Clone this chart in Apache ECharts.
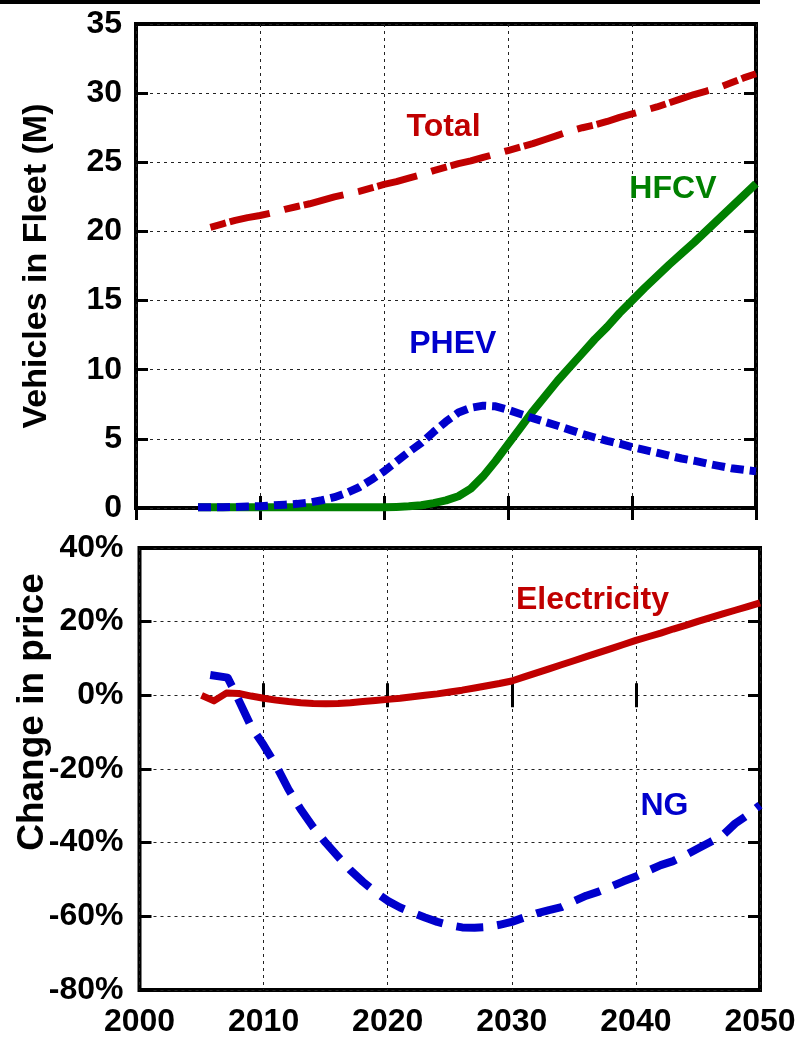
<!DOCTYPE html>
<html>
<head>
<meta charset="utf-8">
<script src="https://cdn.jsdelivr.net/npm/echarts@6/dist/echarts.min.js"></script>
<style>
  html, body { margin: 0; padding: 0; background: #fff; }
  #chart { width: 800px; height: 1038px; }
</style>
</head>
<body>
<div id="chart"></div>
<script>
// ---- Data -------------------------------------------------------------
// Fleet projections (millions of vehicles), one value per year 2005-2050
const years = [2005,2006,2007,2008,2009,2010,2011,2012,2013,2014,2015,2016,2017,2018,2019,
               2020,2021,2022,2023,2024,2025,2026,2027,2028,2029,2030,2031,2032,2033,2034,
               2035,2036,2037,2038,2039,2040,2041,2042,2043,2044,2045,2046,2047,2048,2049,2050];

const totalFleet = [null,20.3,20.55,20.8,21.0,21.15,21.35,21.6,21.8,22.0,22.25,22.5,22.7,22.9,23.15,
                    23.4,23.6,23.85,24.1,24.4,24.65,24.9,25.1,25.35,25.6,25.85,26.1,26.35,26.65,26.95,
                    27.25,27.5,27.7,27.95,28.25,28.5,28.75,29.0,29.3,29.6,29.9,30.15,30.4,30.75,31.1,31.4];

const hfcvFleet = [0.05,0.05,0.05,0.05,0.05,0.05,0.05,0.05,0.05,0.05,0.05,0.05,0.05,0.05,0.05,
                   0.05,0.08,0.12,0.2,0.35,0.55,0.85,1.4,2.3,3.4,4.6,5.8,7.0,8.1,9.2,
                   10.2,11.2,12.2,13.1,14.1,15.0,15.9,16.75,17.6,18.4,19.2,20.05,20.9,21.75,22.6,23.45];

const phevFleet = [0.05,0.05,0.06,0.07,0.1,0.13,0.19,0.24,0.3,0.4,0.56,0.78,1.1,1.5,2.05,
                   2.65,3.35,4.05,4.7,5.5,6.25,6.9,7.25,7.4,7.35,7.1,6.8,6.5,6.22,5.95,
                   5.65,5.36,5.1,4.85,4.65,4.4,4.2,4.0,3.78,3.58,3.42,3.22,3.05,2.88,2.76,2.65];

// Change in energy price (%)
const elecChange = [0,-1.5,0.6,0.5,-0.2,-0.8,-1.3,-1.7,-2.0,-2.2,-2.3,-2.2,-2.0,-1.7,-1.4,
                    -1.1,-0.8,-0.4,0.0,0.4,0.9,1.4,2.0,2.6,3.2,3.9,5.0,6.1,7.2,8.3,
                    9.4,10.5,11.6,12.7,13.8,14.9,15.9,16.9,18.0,19.0,20.1,21.1,22.1,23.1,24.1,25.1];

const ngYears  = [2005.7,2007.1,2007.6,2009,2010,2011,2012,2013,2014,2015,2016,2017,2018,2019,
                  2020,2021,2022,2023,2024,2025,2026,2027,2028,2029,2030,2031,2032,2033,2034,
                  2035,2036,2037,2038,2039,2040,2041,2042,2043,2044,2045,2046,2047,2048,2049,2050];
const ngChange = [5.5,4.8,1.5,-8.5,-13.5,-19,-25.5,-31,-35.8,-40,-43.8,-47.5,-50.6,-53.4,
                  -55.8,-57.6,-59.0,-60.3,-61.5,-62.4,-63.0,-63.1,-62.9,-62.3,-61.5,-60.3,-59.2,-58.3,-57.5,
                  -55.9,-54.4,-53.3,-51.9,-50.5,-49.2,-47.6,-46.1,-45.0,-43.4,-41.6,-39.8,-38.0,-34.8,-32.5,-29.8];

// Axis ranges and tick steps
const yearRange  = [2000, 2050, 10];
const fleetRange = [0, 35, 5];
const priceRange = [-80, 40, 20];

// Curve labels: [text, x, y] in data units
const fleetLabels = [['Total', 2024.8, 27.55], ['HFCV', 2043.3, 23.05], ['PHEV', 2025.55, 11.85]];
const priceLabels = [['Electricity', 2036.5, 25.9], ['NG', 2042.3, -30.0]];

// ---- Styling ----------------------------------------------------------
const FONT = "'Liberation Sans', Arial, Helvetica, sans-serif";
const RED = '#c00000', GREEN = '#008000', BLUE = '#0000cc';

const pairs = (xs, ys) => xs.map((x, i) => [x, ys[i]]);

function labelPoint(text, x, y, color) {
  return {
    coord: [x, y], value: text,
    symbol: 'circle', symbolSize: 0,
    label: { show: true, position: 'inside', formatter: text, color: color,
             fontFamily: FONT, fontWeight: 'bold', fontSize: 32 }
  };
}

function lineSeries(name, data, color, width, dash, gi, label) {
  const s = {
    name, type: 'line', data,
    xAxisIndex: gi * 2, yAxisIndex: gi * 2,
    showSymbol: false, symbol: 'none', animation: false, silent: true,
    lineStyle: { color, width, type: dash || 'solid', cap: 'butt', join: 'round' },
    z: 5
  };
  if (label) {
    s.markPoint = { silent: true, animation: false, symbolSize: 0,
                    data: [labelPoint(label[0], label[1], label[2], color)] };
  }
  return s;
}

const gridLine = { show: true, lineStyle: { color: '#222', width: 1, type: [3, 4] } };
const tick = { show: true, inside: true, length: 12, lineStyle: { color: '#000', width: 3 } };
const tickLabel = { color: '#000', fontFamily: FONT, fontWeight: 'bold', fontSize: 32 };

function xAxes(gi, showLabels) {
  const base = { type: 'value', gridIndex: gi, min: yearRange[0], max: yearRange[1], interval: yearRange[2],
                 axisLine: { show: false }, axisTick: tick };
  return [
    Object.assign({}, base, { position: 'bottom', splitLine: gridLine,
      axisLabel: Object.assign({ show: showLabels, margin: 16, formatter: v => String(v) }, tickLabel) }),
    Object.assign({}, base, { position: 'top', splitLine: { show: false }, axisLabel: { show: false } })
  ];
}

function yAxes(gi, range, name, nameGap, nameSize, namePad, freeName, margin, fmt) {
  const base = { type: 'value', gridIndex: gi, min: range[0], max: range[1], interval: range[2],
                 axisLine: { show: false }, axisTick: tick };
  return [
    Object.assign({}, base, { position: 'left', splitLine: gridLine,
      name, nameLocation: 'middle', nameGap, nameRotate: 90, nameMoveOverlap: !freeName,
      nameTextStyle: { color: '#000', fontFamily: FONT, fontWeight: 'bold', fontSize: nameSize,
                       padding: namePad },
      axisLabel: Object.assign({ margin, formatter: fmt }, tickLabel) }),
    Object.assign({}, base, { position: 'right', splitLine: { show: false }, axisLabel: { show: false } })
  ];
}

const chart = echarts.init(document.getElementById('chart'), null, { renderer: 'canvas' });

chart.setOption({
  backgroundColor: '#fff',
  animation: false,
  grid: [
    { left: 136, right: 44, top: 24, height: 484, show: true, borderColor: '#000', borderWidth: 4,
      backgroundColor: 'transparent', outerBoundsMode: 'none', containLabel: false },
    { left: 139.5, right: 40, top: 548, height: 442, show: true, borderColor: '#000', borderWidth: 4,
      backgroundColor: 'transparent', outerBoundsMode: 'none', containLabel: false }
  ],
  xAxis: [...xAxes(0, false), ...xAxes(1, true)],
  yAxis: [
    ...yAxes(0, fleetRange, 'Vehicles in Fleet (M)', 82, 34, [0, 0, 0, 0], false, 14, v => String(v)),
    ...yAxes(1, priceRange, 'Change in price', 88, 37, [0, 0, 0, 114], true, 16, v => v + '%')
  ],
  graphic: [
    { type: 'rect', shape: { x: 0, y: 0, width: 760, height: 4 }, style: { fill: '#000' }, silent: true }
  ],
  series: [
    lineSeries('Total', pairs(years, totalFleet), RED, 7, [16, 4, 41, 15], 0, fleetLabels[0]),
    lineSeries('HFCV', pairs(years, hfcvFleet), GREEN, 8, null, 0, fleetLabels[1]),
    lineSeries('PHEV', pairs(years, phevFleet), BLUE, 8, [13, 6], 0, fleetLabels[2]),
    lineSeries('Electricity', pairs(years, elecChange), RED, 7, null, 1, priceLabels[0]),
    lineSeries('NG', pairs(ngYears, ngChange), BLUE, 8, [27, 14], 1, priceLabels[1])
  ]
});
</script>
</body>
</html>
